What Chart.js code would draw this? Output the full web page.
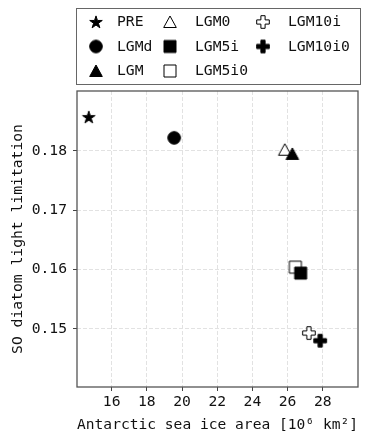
<!DOCTYPE html>
<html><head><meta charset="utf-8">
<script src="https://cdn.jsdelivr.net/npm/chart.js@4.4.1/dist/chart.umd.min.js"></script>
<style>html,body{margin:0;padding:0;background:#fff;}#wrap{width:366px;height:436px;}</style>
</head><body><div id="wrap"><canvas id="c" width="366" height="436"></canvas></div>
<script>
const categories = ['PRE','LGMd','LGM','LGM0','LGM5i','LGM5i0','LGM10i','LGM10i0'];
const seaIceArea = [14.70, 19.55, 26.27, 25.84, 26.74, 26.44, 27.21, 27.85];
const lightLimitation = [0.1857, 0.1822, 0.1795, 0.1802, 0.1594, 0.1604, 0.1493, 0.1480];
const markerShapes = ['star','circle','triangle','triangle','square','square','plus','plus'];
const markerFilled = [true,true,true,false,true,false,false,true];
const xTicks = [16,18,20,22,24,26,28];
const yTicks = [0.15,0.16,0.17,0.18];
const legendColumns = [['PRE','LGMd','LGM'],['LGM0','LGM5i','LGM5i0'],['LGM10i','LGM10i0']];

const FONT = "'DejaVu Sans Mono', monospace";
const FS = 14.7;
const TEXT = '#111';

function makeMarker(shape, filled){
  const S = 20, c = 10;
  const cv = document.createElement('canvas'); cv.width = S; cv.height = S;
  const g = cv.getContext('2d');
  g.beginPath();
  if (shape === 'circle') { g.arc(c, c, 6.3, 0, Math.PI*2); }
  else if (shape === 'star') {
    const R = 6.6, r = R*0.382;
    for (let i = 0; i < 10; i++) {
      const a = -Math.PI/2 + i*Math.PI/5, rr = i%2 ? r : R;
      const px = c + rr*Math.cos(a), py = c + 0.5 + rr*Math.sin(a);
      i ? g.lineTo(px, py) : g.moveTo(px, py);
    }
    g.closePath();
  }
  else if (shape === 'triangle') { g.moveTo(c, c-6); g.lineTo(c+6.3, c+5.5); g.lineTo(c-6.3, c+5.5); g.closePath(); }
  else if (shape === 'square') { g.rect(c-6, c-6, 12, 12); }
  else if (shape === 'plus') {
    const h = 6.3, a = 2.1;
    const p = [[-a,-h],[a,-h],[a,-a],[h,-a],[h,a],[a,a],[a,h],[-a,h],[-a,a],[-h,a],[-h,-a],[-a,-a]];
    p.forEach((q,i)=> i ? g.lineTo(c+q[0], c+q[1]) : g.moveTo(c+q[0], c+q[1]));
    g.closePath();
  }
  g.fillStyle = filled ? '#000' : '#fff'; g.fill();
  g.lineWidth = 1; g.strokeStyle = '#000'; g.stroke();
  return cv;
}

const markers = categories.map((n,i)=> makeMarker(markerShapes[i], markerFilled[i]));

const datasets = categories.map((name, i) => ({
  label: name,
  data: [{x: seaIceArea[i], y: lightLimitation[i]}],
  pointStyle: markers[i],
  pointRadius: 7,
  order: markerFilled[i] ? 0 : 1
}));

const overlay = {
  id: 'overlay',
  afterDraw(chart){
    const {ctx, chartArea: a} = chart;
    ctx.save();
    ctx.strokeStyle = '#555'; ctx.lineWidth = 1.3;
    ctx.strokeRect(a.left, a.top, a.right - a.left, a.bottom - a.top);
    // legend box
    ctx.strokeStyle = '#666'; ctx.lineWidth = 1;
    ctx.strokeRect(76.5, 8.5, 284, 76);
    const colMarkerX = [96, 170, 263], colTextX = [117, 195, 288], rowY = [22, 46.5, 71];
    ctx.font = FS + 'px ' + FONT; ctx.fillStyle = TEXT; ctx.textBaseline = 'middle'; ctx.textAlign = 'left';
    legendColumns.forEach((col, ci) => col.forEach((name, ri) => {
      const m = markers[categories.indexOf(name)];
      ctx.drawImage(m, colMarkerX[ci] - m.width/2, rowY[ri] - m.height/2);
      ctx.fillText(name, colTextX[ci], rowY[ri] + 0.5);
    }));
    ctx.restore();
  }
};

new Chart(document.getElementById('c'), {
  type: 'scatter',
  data: { datasets },
  options: {
    responsive: false,
    animation: false,
    events: [],
    layout: { padding: { left: 0, right: 1, top: 91, bottom: 0 } },
    plugins: { legend: { display: false }, tooltip: { enabled: false } },
    scales: {
      x: {
        type: 'linear', min: 14.03, max: 30.0,
        afterBuildTicks: s => { s.ticks = xTicks.map(v => ({value: v})); },
        afterFit: s => { s.height = 49; s.paddingRight = 0; s.paddingLeft = 0; },
        grid: { color: '#e2e2e2', lineWidth: 1, tickLength: 4, tickColor: '#444', tickWidth: 1 },
        border: { display: false, dash: [4, 2] },
        ticks: { font: { family: FONT, size: FS }, color: TEXT, padding: 2, maxRotation: 0, autoSkip: false, callback: v => String(v) },
        title: { display: true, text: 'Antarctic sea ice area [10⁶ km²]', font: { family: FONT, size: FS }, color: TEXT, padding: { top: 0, bottom: 2 } }
      },
      y: {
        type: 'linear', min: 0.1402, max: 0.1901,
        afterBuildTicks: s => { s.ticks = yTicks.map(v => ({value: v})); },
        afterFit: s => { s.width = 77; s.paddingTop = 0; s.paddingBottom = 0; },
        grid: { color: '#e2e2e2', lineWidth: 1, tickLength: 4, tickColor: '#444', tickWidth: 1 },
        border: { display: false, dash: [4, 2] },
        ticks: { font: { family: FONT, size: FS }, color: TEXT, padding: 6, autoSkip: false, callback: v => v.toFixed(2) },
        title: { display: true, text: 'SO diatom light limitation', font: { family: FONT, size: FS }, color: TEXT, padding: { top: 9, bottom: 0 } }
      }
    }
  },
  plugins: [overlay]
});
</script></body></html>
